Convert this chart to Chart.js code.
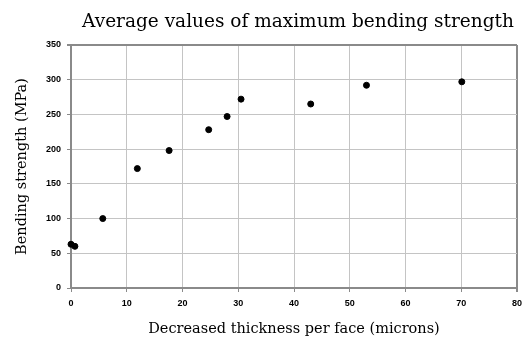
<!DOCTYPE html>
<html>
<head>
<meta charset="utf-8">
<script src="https://cdn.jsdelivr.net/npm/chart.js@4/dist/chart.umd.min.js"></script>
<style>
  html, body { margin: 0; padding: 0; background: #fff; }
  #wrap { width: 523px; height: 338px; position: relative; }
</style>
</head>
<body>
<div id="wrap"><canvas id="chart"></canvas></div>
<script>
const chartTitle = 'Average values of maximum bending strength';
const xTitle     = 'Decreased thickness per face (microns)';
const yTitle     = 'Bending strength (MPa)';

// decreased thickness per face (microns)
const thickness = [0, 0.7, 5.7, 11.9, 17.6, 24.7, 28.0, 30.5, 43.0, 53.0, 70.1];
// average maximum bending strength (MPa)
const strength  = [63, 60, 100, 172, 198, 228, 247, 272, 265, 292, 297];

const xTicks = [0, 10, 20, 30, 40, 50, 60, 70, 80];
const yTicks = [0, 50, 100, 150, 200, 250, 300, 350];

const points = thickness.map((x, i) => ({ x, y: strength[i] }));

// title centred over the plot area
const titlePlugin = {
  id: 'plotTitle',
  afterDraw(chart) {
    const { ctx, chartArea } = chart;
    ctx.save();
    ctx.font = '18.5px "DejaVu Serif", serif';
    ctx.fillStyle = '#000';
    ctx.textAlign = 'center';
    ctx.textBaseline = 'middle';
    ctx.fillText(chartTitle, (chartArea.left + chartArea.right) / 2 + 4, 22);
    ctx.restore();
  }
};

const tickFont = { family: '"Liberation Sans", Arial, sans-serif', size: 9, weight: 'bold' };
const axisFont = { family: '"DejaVu Serif", serif', size: 14.5 };

new Chart(document.getElementById('chart'), {
  type: 'scatter',
  data: {
    datasets: [{
      data: points,
      backgroundColor: '#000',
      borderColor: '#000',
      pointRadius: 3,
      pointHoverRadius: 3,
      clip: false
    }]
  },
  options: {
    responsive: true,
    maintainAspectRatio: false,
    animation: false,
    layout: { padding: { top: 45, right: 6, left: 14, bottom: 0 } },
    plugins: { legend: { display: false }, tooltip: { enabled: false } },
    scales: {
      x: {
        type: 'linear', min: 0, max: 80,
        afterBuildTicks: s => { s.ticks = xTicks.map(v => ({ value: v })); },
        afterFit: s => { s.height = 50; s.paddingLeft = 0; s.paddingRight = 0; },
        ticks: { color: '#000', font: tickFont, padding: 6, maxRotation: 0 },
        grid: {
          color: c => c.tick && c.tick.value === 80 ? '#8a8a8a' : '#c4c4c4',
          lineWidth: c => c.tick && c.tick.value === 80 ? 2 : 1,
          tickColor: '#8a8a8a', tickLength: 4
        },
        border: { color: '#8a8a8a', width: 2 },
        title: { display: true, text: xTitle, color: '#000', font: axisFont, padding: { top: 6, bottom: 0 } }
      },
      y: {
        type: 'linear', min: 0, max: 350,
        afterBuildTicks: s => { s.ticks = yTicks.map(v => ({ value: v })); },
        afterFit: s => { s.width = 57; },
        ticks: { color: '#000', font: tickFont, padding: 6 },
        grid: {
          color: c => c.tick && c.tick.value === 350 ? '#8a8a8a' : '#c4c4c4',
          lineWidth: c => c.tick && c.tick.value === 350 ? 2 : 1,
          tickColor: '#8a8a8a', tickLength: 4
        },
        border: { color: '#8a8a8a', width: 2 },
        title: { display: true, text: yTitle, color: '#000', font: axisFont, padding: { top: 0, bottom: 2 } }
      }
    }
  },
  plugins: [titlePlugin]
});
</script>
</body>
</html>
